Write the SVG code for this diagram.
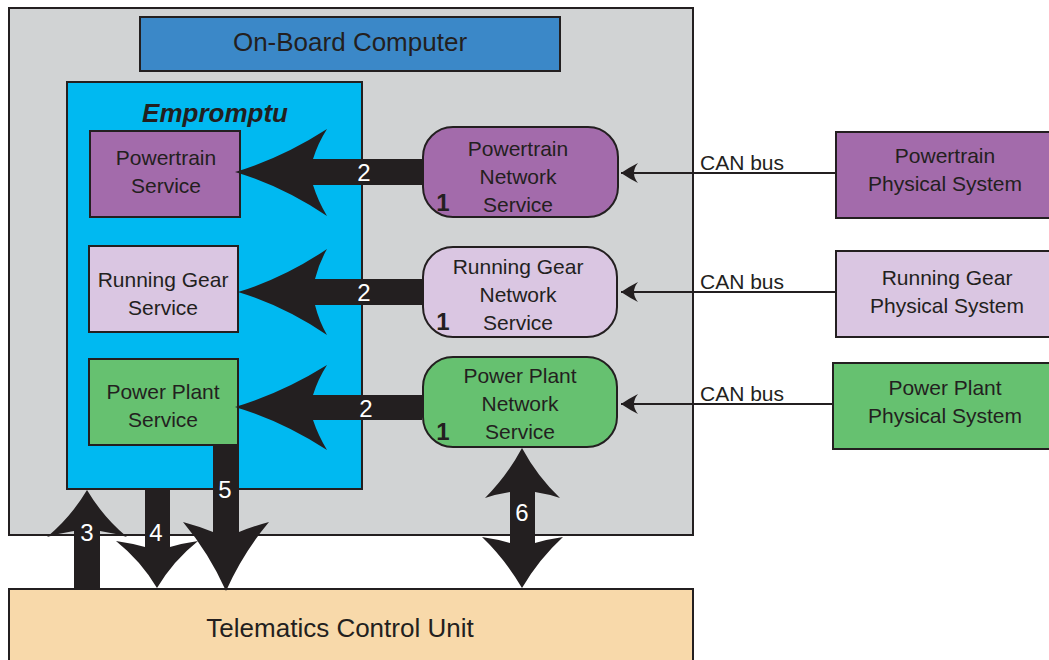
<svg xmlns="http://www.w3.org/2000/svg" width="1049" height="660" viewBox="0 0 1049 660">
<style>
.t{font-family:"Liberation Sans",Arial,sans-serif;fill:#231f20;font-size:21px;text-anchor:middle}
.big{font-size:26px}
.box{stroke:#231f20;stroke-width:2}
.arr{fill:#231f20}
.num{font-family:"Liberation Sans",Arial,sans-serif;fill:#ffffff;font-size:24px;text-anchor:middle}
.one{font-family:"Liberation Sans",Arial,sans-serif;fill:#231f20;font-size:24px;font-weight:bold;text-anchor:middle}
.can{stroke:#231f20;stroke-width:2;fill:none}
</style>
<defs>
<marker id="ah" viewBox="-2 -11 22 22" refX="17" refY="0" markerWidth="22" markerHeight="22" markerUnits="userSpaceOnUse" orient="auto">
<path d="M17,0 Q8,-6 0,-10 Q4,-5 4,0 Q4,5 0,10 Q8,6 17,0 Z" fill="#231f20"/>
</marker>
</defs>
<g id="obc-frame">
<rect class="box" x="9" y="8" width="684" height="527" fill="#d1d3d4"/>
</g>
<g id="tcu">
<rect class="box" x="9" y="589" width="684" height="80" fill="#f8d9aa"/>
<text class="t big" x="340" y="637">Telematics Control Unit</text>
</g>
<g id="obc-title">
<rect class="box" x="140" y="17" width="420" height="54" fill="#3b88c8"/>
<text class="t big" x="350" y="51">On-Board Computer</text>
</g>
<g id="empromptu">
<rect class="box" x="67" y="82" width="295" height="407" fill="#00b9f1"/>
<text class="t big" x="215" y="122" font-weight="bold" font-style="italic">Empromptu</text>
</g>
<g id="powertrain-service">
<rect class="box" x="90" y="131" width="150" height="86" fill="#a36bab"/>
<text class="t" x="166" y="165">Powertrain</text>
<text class="t" x="166" y="193">Service</text>
</g>
<g id="running-gear-service">
<rect class="box" x="89" y="246" width="149" height="86" fill="#dac6e2"/>
<text class="t" x="163" y="287">Running Gear</text>
<text class="t" x="163" y="315">Service</text>
</g>
<g id="power-plant-service">
<rect class="box" x="89" y="359" width="149" height="86" fill="#66c170"/>
<text class="t" x="163" y="399">Power Plant</text>
<text class="t" x="163" y="427">Service</text>
</g>
<g id="powertrain-network-service">
<rect class="box" x="423" y="127" width="195" height="90" rx="30" fill="#a36bab"/>
<text class="t" x="518" y="156">Powertrain</text>
<text class="t" x="518" y="184">Network</text>
<text class="t" x="518" y="212">Service</text>
<text class="one" x="443" y="211">1</text>
</g>
<g id="running-gear-network-service">
<rect class="box" x="423" y="247" width="194" height="90" rx="30" fill="#dac6e2"/>
<text class="t" x="518" y="274">Running Gear</text>
<text class="t" x="518" y="302">Network</text>
<text class="t" x="518" y="330">Service</text>
<text class="one" x="443" y="330">1</text>
</g>
<g id="power-plant-network-service">
<rect class="box" x="423" y="357" width="194" height="90" rx="30" fill="#66c170"/>
<text class="t" x="520" y="383">Power Plant</text>
<text class="t" x="520" y="411">Network</text>
<text class="t" x="520" y="439">Service</text>
<text class="one" x="443" y="440">1</text>
</g>
<g id="powertrain-physical">
<rect class="box" x="836" y="132" width="216" height="86" fill="#a36bab"/>
<text class="t" x="945" y="163">Powertrain</text>
<text class="t" x="945" y="191">Physical System</text>
</g>
<g id="running-gear-physical">
<rect class="box" x="836" y="251" width="216" height="86" fill="#dac6e2"/>
<text class="t" x="947" y="285">Running Gear</text>
<text class="t" x="947" y="313">Physical System</text>
</g>
<g id="power-plant-physical">
<rect class="box" x="833" y="363" width="219" height="86" fill="#66c170"/>
<text class="t" x="945" y="395">Power Plant</text>
<text class="t" x="945" y="423">Physical System</text>
</g>
<g id="connectors">
<line class="can" x1="836" y1="173" x2="621" y2="173" marker-end="url(#ah)"/>
<line class="can" x1="836" y1="292" x2="621" y2="292" marker-end="url(#ah)"/>
<line class="can" x1="833" y1="404" x2="621" y2="404" marker-end="url(#ah)"/>
<text class="t" x="742" y="170">CAN bus</text>
<text class="t" x="742" y="289">CAN bus</text>
<text class="t" x="742" y="401">CAN bus</text>
<path class="arr" d="M422,159 L313,159 Q318,143 327,129 Q282,158 235,172 Q282,186 327,216 Q318,201 313,185 L422,185 Z"/>
<path class="arr" d="M422,279 L315,279 Q319,263 327,249 Q284,278 238,292 Q284,306 327,335 Q319,321 315,305 L422,305 Z"/>
<path class="arr" d="M422,395 L313,395 Q318,379 327,365 Q282,393 235,407 Q282,421 327,450 Q318,435 313,420 L422,420 Z"/>
<path class="arr" d="M74,588 L74,531 Q61,533 47,537 Q71,517 87,490 Q103,517 127,537 Q113,533 100,531 L100,588 Z"/>
<path class="arr" d="M145,489 L145,547 Q130,543 116,541 Q141,561 157,588 Q173,561 198,541 Q184,543 170,547 L170,489 Z"/>
<path class="arr" d="M213,445 L213,532 Q198,526 183,522 Q209,553 226,591 Q243,553 269,522 Q254,526 239,532 L239,445 Z"/>
<path class="arr" d="M510,492 Q497,494 485,498 Q507,476 522,448 Q537,476 560,498 Q548,494 535,492 L535,543 Q549,539 563,537 Q539,559 522,588 Q505,559 482,537 Q496,539 510,543 Z"/>
<text class="num" x="364" y="181">2</text>
<text class="num" x="364" y="301">2</text>
<text class="num" x="366" y="417">2</text>
<text class="num" x="87" y="541">3</text>
<text class="num" x="156" y="541">4</text>
<text class="num" x="225" y="498">5</text>
<text class="num" x="522" y="521">6</text>
</g>
</svg>
